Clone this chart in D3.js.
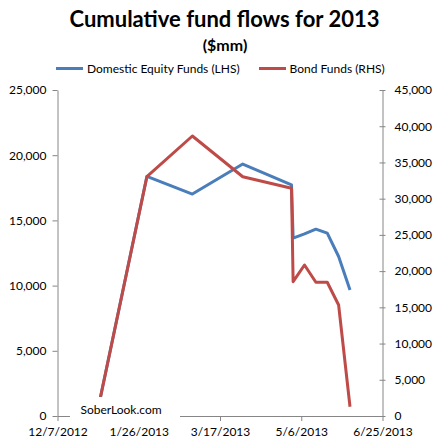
<!DOCTYPE html>
<html>
<head>
<meta charset="utf-8">
<script src="https://cdn.jsdelivr.net/npm/d3@7"></script>
<style>
  html, body { margin: 0; padding: 0; background: #fff; }
  svg { display: block; }
  text { font-family: Lato, "Open Sans", sans-serif; }
</style>
</head>
<body>
<script>
// ---- data ----
const dates = ["12/31/2012","1/31/2013","2/28/2013","3/31/2013","4/30/2013","5/1/2013","5/8/2013","5/15/2013","5/22/2013","5/29/2013","6/5/2013"];
const equityFunds = [0, 18370, 17020, 19320, 17730, 13640, 13970, 14330, 14020, 12230, 9670];
const bondFunds = [0, 33030, 38650, 33030, 31430, 18540, 20840, 18460, 18460, 15320, 1280];
const xTickLabels = ["12/7/2012","1/26/2013","3/17/2013","5/6/2013","6/25/2013"];
const leftTicks = [0, 5000, 10000, 15000, 20000, 25000];
const rightTicks = [0, 5000, 10000, 15000, 20000, 25000, 30000, 35000, 40000, 45000];
const seriesNames = ["Domestic Equity Funds (LHS)", "Bond Funds (RHS)"];

// ---- layout ----
const W = 435, H = 444;
const m = {top: 90, right: 52.5, bottom: 28, left: 57.5};
const parse = d3.utcParse("%m/%d/%Y");
const fmtDate = d3.utcFormat("%-m/%-d/%Y");
const xTicks = xTickLabels.map(parse);

const svg = d3.select("body").append("svg").attr("width", W).attr("height", H);

const x = d3.scaleUtc().domain([xTicks[0], xTicks[xTicks.length - 1]]).range([m.left, W - m.right]);
const yL = d3.scaleLinear().domain([0, 25000]).range([H - m.bottom, m.top]);
const yR = d3.scaleLinear().domain([0, 45000]).range([H - m.bottom, m.top]);

const axisColor = "#868686";
const fmtNum = d3.format(",");

// title
svg.append("text").attr("x", 224.5).attr("y", 26.5).attr("text-anchor", "middle")
  .attr("font-size", 22).attr("font-weight", "bold").attr("fill", "#000")
  .text("Cumulative fund flows for 2013");
svg.append("text").attr("x", 225).attr("y", 51).attr("text-anchor", "middle")
  .attr("font-size", 16).attr("font-weight", "bold").attr("fill", "#000")
  .text("($mm)");

// legend
const colors = ["#4A7EBB", "#BE4B48"];
const legendItems = [{x1: 56, x2: 83, tx: 87}, {x1: 259, x2: 286, tx: 289.5}];
legendItems.forEach((it, i) => {
  svg.append("line").attr("x1", it.x1).attr("x2", it.x2).attr("y1", 68.5).attr("y2", 68.5)
    .attr("stroke", colors[i]).attr("stroke-width", 3);
  svg.append("text").attr("x", it.tx).attr("y", 72.5).attr("font-size", 12).attr("fill", "#000")
    .text(seriesNames[i]);
});

// axes
const gx = svg.append("g").attr("transform", `translate(0,${H - m.bottom})`)
  .call(d3.axisBottom(x).tickValues(xTicks).tickFormat(fmtDate).tickSize(5).tickSizeOuter(0));
const gl = svg.append("g").attr("transform", `translate(${m.left},0)`)
  .call(d3.axisLeft(yL).tickValues(leftTicks).tickFormat(fmtNum).tickSize(5).tickSizeOuter(0));
const gr = svg.append("g").attr("transform", `translate(${W - m.right},0)`)
  .call(d3.axisRight(yR).tickValues(rightTicks).tickFormat(fmtNum).tickSize(3).tickSizeOuter(0));
gr.selectAll(".tick line").attr("x1", -3);

[gx, gl, gr].forEach(g => {
  g.select(".domain").attr("stroke", axisColor);
  g.selectAll(".tick line").attr("stroke", axisColor);
  g.selectAll(".tick text").attr("fill", "#000").attr("font-size", 12)
    .style("font-family", "Lato, 'Open Sans', sans-serif");
});
gx.selectAll(".tick text").attr("dy", "1.0em");
gl.selectAll(".tick text").attr("x", -11);
gr.selectAll(".tick text").attr("x", 12);

// lines
const data = dates.map((d, i) => ({date: parse(d), eq: equityFunds[i], bond: bondFunds[i]}));
const lineEq = d3.line().x(d => x(d.date)).y(d => yL(d.eq));
const lineBond = d3.line().x(d => x(d.date)).y(d => yR(d.bond));
svg.append("path").datum(data).attr("d", lineEq).attr("fill", "none")
  .attr("stroke", colors[0]).attr("stroke-width", 3).attr("stroke-linejoin", "round");
svg.append("path").datum(data).attr("d", lineBond).attr("fill", "none")
  .attr("stroke", colors[1]).attr("stroke-width", 3).attr("stroke-linejoin", "round");

// watermark box
svg.append("rect").attr("x", 70).attr("y", 397).attr("width", 110).attr("height", 24).attr("fill", "#fff");
svg.append("text").attr("x", 121).attr("y", 414).attr("text-anchor", "middle")
  .attr("font-size", 12).attr("fill", "#000").text("SoberLook.com");
</script>
</body>
</html>
